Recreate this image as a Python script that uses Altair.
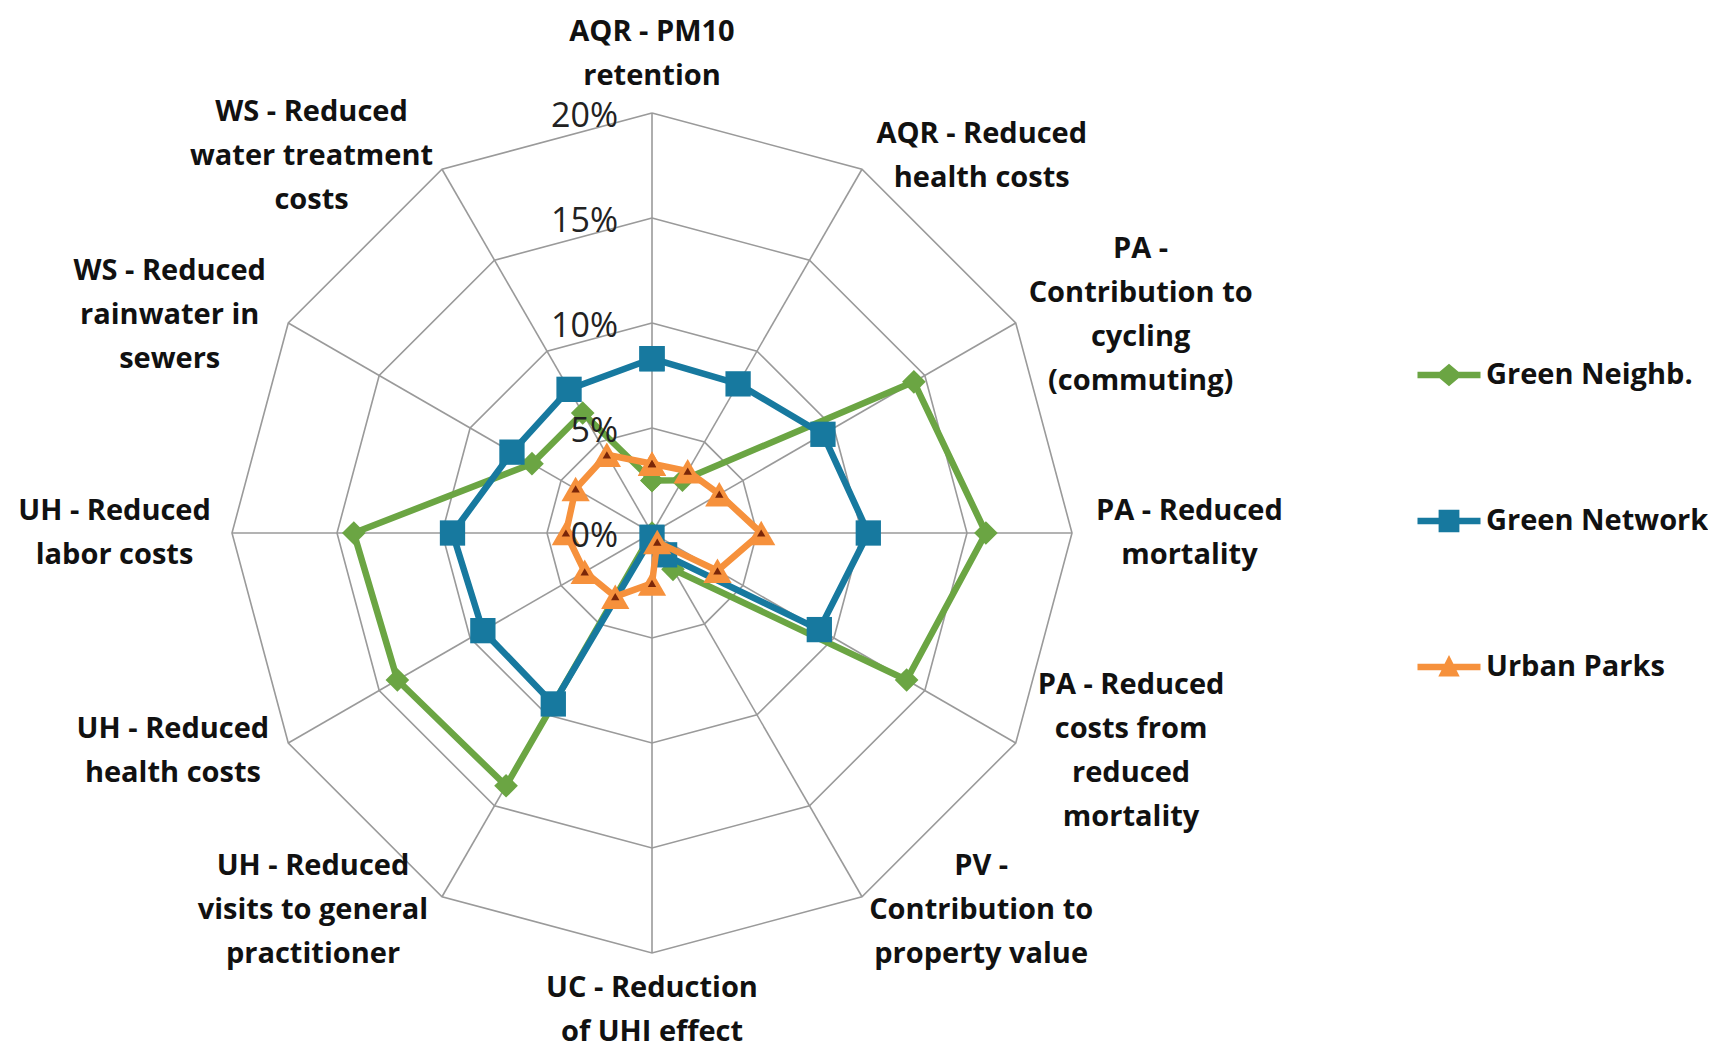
import altair as alt
import pandas as pd

# ---------------- data ----------------
categories = [
    "AQR - PM10\nretention",
    "AQR - Reduced\nhealth costs",
    "PA -\nContribution to\ncycling\n(commuting)",
    "PA - Reduced\nmortality",
    "PA - Reduced\ncosts from\nreduced\nmortality",
    "PV -\nContribution to\nproperty value",
    "UC - Reduction\nof UHI effect",
    "UH - Reduced\nvisits to general\npractitioner",
    "UH - Reduced\nhealth costs",
    "UH - Reduced\nlabor costs",
    "WS - Reduced\nrainwater in\nsewers",
    "WS - Reduced\nwater treatment\ncosts",
]
series_names = ["Green Neighb.", "Green Network", "Urban Parks"]
green_neighb = [2.5, 2.9, 14.4, 15.9, 14.0, 2.0, 0.0, 13.9, 14.0, 14.2, 6.6, 6.6]
green_network = [8.3, 8.2, 9.4, 10.3, 9.2, 1.2, 0.2, 9.4, 9.3, 9.5, 7.7, 7.9]
urban_parks = [3.3, 3.4, 3.7, 5.2, 3.6, 0.5, 2.4, 3.5, 3.7, 4.1, 4.2, 4.3]
ring_values = [5, 10, 15, 20]
tick_values = [0, 5, 10, 15, 20]
tick_labels = ["0%", "5%", "10%", "15%", "20%"]

# ---------------- styles / layout ----------------
colors = ["#6BA543", "#17799F", "#F6913C"]
FONT = "Open Sans"
PX = 21.0                 # pixels per percentage point
W, H = 1700, 1041
CX, CY = 644, 525         # centre of the radar in plot pixels
x_dom = [-CX / PX, (W - CX) / PX]
y_dom = [-(H - CY) / PX, CY / PX]
xs = alt.Scale(domain=x_dom, nice=False, zero=False)
ys = alt.Scale(domain=y_dom, nice=False, zero=False)
N = len(categories)
R_MAX = max(ring_values)

# ---------------- tables ----------------
rows = []
for name, vals in zip(series_names, [green_neighb, green_network, urban_parks]):
    for i in range(N + 1):
        rows.append({"series": name, "idx": i, "v": vals[i % N]})
series_df = pd.DataFrame(rows)

ring_df = pd.DataFrame([{"ring": r, "idx": i, "v": r} for r in ring_values for i in range(N + 1)])
spoke_df = pd.DataFrame({"idx": list(range(N)), "v": [R_MAX] * N, "z": [0] * N})


def width_em(s):
    w = 0.0
    for ch in s:
        if ch in "ijl.,'|:":
            w += 0.28
        elif ch in "()-t":
            w += 0.36
        elif ch in "fr":
            w += 0.44
        elif ch == " ":
            w += 0.26
        elif ch in "mwMW":
            w += 0.92
        elif ch.isupper():
            w += 0.70
        elif ch.isdigit():
            w += 0.57
        else:
            w += 0.60
    return w


LABEL_FS = 29
LINE_H = 44
lab_rows = []
for i, c in enumerate(categories):
    lines = c.split("\n")
    hw = max(width_em(l) for l in lines) * LABEL_FS / 2 / PX
    hh = len(lines) * LINE_H / 2 / PX
    first = (len(lines) - 1) * LINE_H / 2 / PX   # shift so the block is centred
    lab_rows.append({"idx": i, "label": c, "hw": hw, "hh": hh, "first": first})
label_df = pd.DataFrame(lab_rows)

tick_df = pd.DataFrame({"v": tick_values, "label": tick_labels})

ang = "datum.idx * PI / 6"
G, PAD = 0.75, 0.3
GT, GB = 0.7, 0.6   # gaps for the top / bottom labels

# ---------------- layers ----------------
rings = alt.Chart(ring_df).transform_calculate(a=ang).transform_calculate(
    px="datum.v * sin(datum.a)", py="datum.v * cos(datum.a)"
).mark_line(color="#9A9A9A", strokeWidth=1.6).encode(
    x=alt.X("px:Q", scale=xs, axis=None),
    y=alt.Y("py:Q", scale=ys, axis=None),
    detail="ring:N",
    order="idx:Q",
)

spokes = alt.Chart(spoke_df).transform_calculate(a=ang).transform_calculate(
    px="datum.v * sin(datum.a)", py="datum.v * cos(datum.a)"
).mark_rule(color="#9A9A9A", strokeWidth=1.6).encode(
    x=alt.X("z:Q", scale=xs, axis=None),
    y=alt.Y("z:Q", scale=ys, axis=None),
    x2="px:Q",
    y2="py:Q",
)

ticks = alt.Chart(tick_df).mark_text(
    align="right", baseline="middle", dx=-34, dy=4, font=FONT, fontSize=34, color="#222222"
).encode(
    x=alt.value(CX),
    y=alt.Y("v:Q", scale=ys, axis=None),
    text="label:N",
)

labels = alt.Chart(label_df).transform_calculate(a=ang).transform_calculate(
    s="sin(datum.a)", c="cos(datum.a)"
).transform_calculate(
    side="abs(datum.s) > 0.2 ? (datum.s > 0 ? 1 : -1) : 0"
).transform_calculate(
    lx=f"datum.s * ({R_MAX} + {G}) + datum.side * (datum.hw + {PAD})",
    ly=(
        f"(datum.side == 0 ? (datum.c > 0 ? ({R_MAX} + {GT}) + datum.hh : -({R_MAX} + {GB}) - datum.hh)"
        f" : datum.c * ({R_MAX} + {G})) + datum.first"
    ),
).mark_text(
    align="center", baseline="middle", lineBreak="\n", lineHeight=LINE_H,
    font=FONT, fontSize=LABEL_FS, fontWeight="bold", color="#111111"
).encode(
    x=alt.X("lx:Q", scale=xs, axis=None),
    y=alt.Y("ly:Q", scale=ys, axis=None),
    text="label:N",
)


def pos(ch):
    return ch.transform_calculate(a=ang).transform_calculate(
        px="datum.v * sin(datum.a)", py="datum.v * cos(datum.a)"
    )


enc = dict(x=alt.X("px:Q", scale=xs, axis=None), y=alt.Y("py:Q", scale=ys, axis=None))
shapes = ["diamond", "square", "triangle-up"]
sizes = [560, 640, 800]
series_layers = []
for name, col, shp, sz in zip(series_names, colors, shapes, sizes):
    b = pos(alt.Chart(series_df).transform_filter(alt.datum.series == name))
    series_layers.append(b.mark_line(color=col, strokeWidth=6.5, strokeJoin="round").encode(order="idx:Q", **enc))
    series_layers.append(b.mark_point(shape=shp, size=sz, filled=True, color=col, opacity=1).encode(**enc))
    if shp == "triangle-up":
        series_layers.append(b.mark_point(shape=shp, size=70, filled=True, color="#7A2608", opacity=1).encode(**enc))

legend_paths = [
    "M-1,-0.1 L-0.3,-0.1 L0,-0.36 L0.3,-0.1 L1,-0.1 L1,0.1 L0.3,0.1 L0,0.36 L-0.3,0.1 L-1,0.1 Z",
    "M-1,-0.1 L-0.33,-0.1 L-0.33,-0.36 L0.33,-0.36 L0.33,-0.1 L1,-0.1 L1,0.1 L0.33,0.1 L0.33,0.36 L-0.33,0.36 L-0.33,0.1 L-1,0.1 Z",
    "M-1,-0.1 L-0.14,-0.1 L0,-0.38 L0.14,-0.1 L1,-0.1 L1,0.1 L0.24,0.1 L0.34,0.3 L-0.34,0.3 L-0.24,0.1 L-1,0.1 Z",
]
leg = alt.Legend(
    title=None, orient="none", legendX=1409, legendY=335, padding=0,
    symbolSize=3970, symbolStrokeWidth=0, symbolOpacity=1, rowPadding=99,
    labelFont=FONT, labelFontSize=29, labelFontWeight="bold", labelColor="#111111",
    labelOffset=5, labelLimit=400,
)
legend_layer = pos(alt.Chart(series_df)).mark_point(filled=True, opacity=0).encode(
    color=alt.Color("series:N", scale=alt.Scale(domain=series_names, range=colors), legend=leg),
    shape=alt.Shape("series:N", scale=alt.Scale(domain=series_names, range=legend_paths), legend=leg),
    **enc,
)

chart = alt.layer(rings, spokes, *series_layers, ticks, labels, legend_layer).properties(
    width=W, height=H, padding=0, background="white",
    autosize=alt.AutoSizeParams(type="none")
).configure_view(stroke=None)

chart.save("out.html", embed_options={"renderer": "svg", "actions": False})
